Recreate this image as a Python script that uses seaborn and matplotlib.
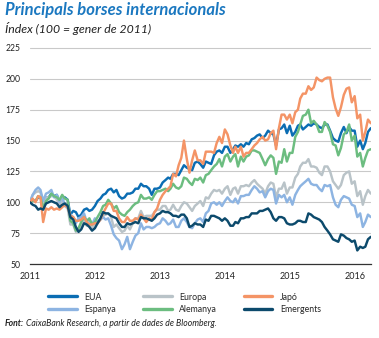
import matplotlib
matplotlib.use("Agg")
import matplotlib.pyplot as plt
import matplotlib.dates as mdates
import numpy as np
import pandas as pd
import seaborn as sns

# Index levels (100 = January 2011): month-end and mid-month observations
end_dates = pd.date_range("2010-12-31", periods=64, freq=pd.offsets.MonthEnd())
mid_dates = pd.date_range("2011-01-01", periods=63, freq=pd.offsets.MonthBegin()) + pd.Timedelta(days=14)

eua_end = [100,
           101, 104, 104, 107, 106, 104, 102, 93, 88, 94, 93, 97,
           103, 107, 111, 110, 103, 107, 108, 111, 113, 111, 111, 112,
           118, 119, 123, 126, 128, 126, 133, 128, 132, 138, 142, 145,
           140, 146, 147, 148, 151, 154, 152, 158, 155, 159, 163, 162,
           157, 163, 161, 162, 163, 160, 163, 152, 149, 161, 161, 158,
           150, 148, 160]
eua_mid = [102, 104, 101, 104, 105, 100, 104, 90, 92, 90, 95, 94,
           101, 106, 110, 108, 105, 104, 107, 111, 115, 113, 106, 111,
           116, 120, 123, 122, 130, 127, 132, 131, 133, 131, 141, 140,
           145, 143, 145, 145, 147, 152, 155, 154, 156, 146, 160, 156,
           154, 162, 159, 163, 164, 161, 163, 158, 150, 156, 156, 158,
           145, 143, 157]

europa_end = [100,
              108, 108, 104, 105, 102, 102, 95, 82, 78, 85, 83, 83,
              86, 90, 88, 82, 76, 81, 83, 87, 88, 89, 92, 94,
              97, 94, 94, 97, 99, 93, 99, 97, 103, 110, 110, 111,
              106, 112, 113, 114, 116, 115, 111, 113, 115, 111, 116, 112,
              120, 129, 132, 129, 128, 122, 129, 117, 111, 122, 125, 117,
              109, 105, 107]
europa_mid = [106, 109, 99, 104, 105, 98, 97, 82, 76, 82, 81, 79,
              83, 89, 91, 80, 79, 77, 78, 87, 93, 89, 89, 94,
              97, 93, 98, 93, 100, 96, 97, 101, 104, 107, 109, 107,
              113, 111, 107, 113, 113, 118, 113, 107, 116, 104, 111, 107,
              112, 123, 132, 135, 129, 124, 129, 125, 114, 114, 124, 115,
              105, 98, 110]

espanya_end = [100,
               110, 110, 107, 110, 106, 105, 98, 88, 87, 91, 86, 87,
               86, 86, 81, 71, 62, 72, 68, 75, 78, 80, 80, 83,
               85, 83, 80, 85, 84, 79, 86, 84, 93, 100, 100, 101,
               101, 103, 105, 106, 110, 111, 109, 109, 110, 106, 106, 104,
               106, 113, 117, 115, 114, 109, 113, 104, 96, 105, 103, 97,
               91, 84, 88]
espanya_mid = [106, 112, 101, 108, 104, 100, 97, 90, 83, 88, 84, 82,
               84, 88, 87, 74, 69, 66, 62, 73, 83, 80, 79, 82,
               87, 82, 86, 80, 87, 80, 83, 87, 91, 99, 98, 97,
               104, 100, 99, 105, 106, 113, 108, 104, 111, 99, 104, 100,
               98, 110, 115, 119, 114, 111, 114, 114, 98, 102, 104, 98,
               88, 80, 90]

alemanya_end = [100,
                101, 104, 101, 107, 104, 106, 102, 83, 79, 88, 87, 84,
                92, 98, 99, 97, 90, 92, 97, 100, 103, 104, 106, 109,
                111, 111, 112, 113, 119, 114, 118, 116, 123, 129, 135, 137,
                133, 139, 137, 137, 142, 141, 135, 135, 136, 133, 143, 140,
                153, 163, 171, 164, 163, 157, 162, 147, 138, 155, 163, 154,
                140, 136, 143]
alemanya_mid = [101, 105, 95, 103, 105, 102, 103, 85, 77, 84, 85, 82,
                88, 97, 102, 95, 92, 89, 94, 99, 106, 103, 102, 109,
                110, 109, 115, 111, 120, 116, 119, 120, 122, 126, 131, 129,
                139, 137, 129, 133, 138, 142, 140, 130, 138, 123, 132, 133,
                140, 157, 170, 175, 166, 157, 165, 157, 146, 144, 157, 150,
                137, 129, 142]

japo_end = [100,
            100, 104, 95, 96, 95, 96, 96, 88, 85, 88, 82, 83,
            86, 95, 99, 93, 84, 88, 85, 86, 87, 87, 92, 102,
            109, 113, 121, 136, 135, 134, 134, 131, 141, 140, 153, 159,
            146, 145, 145, 140, 143, 148, 153, 151, 158, 160, 171, 171,
            173, 184, 188, 191, 201, 198, 201, 185, 170, 187, 193, 186,
            171, 157, 164]
japo_mid = [103, 105, 84, 94, 94, 94, 98, 89, 85, 86, 84, 82,
            83, 91, 99, 93, 87, 84, 85, 87, 90, 84, 86, 95,
            106, 111, 123, 130, 150, 124, 142, 134, 141, 141, 148, 148,
            155, 140, 140, 137, 140, 146, 151, 150, 156, 143, 171, 167,
            164, 175, 188, 194, 193, 199, 200, 201, 176, 177, 192, 181,
            168, 150, 167]

emergents_end = [100,
                 97, 95, 99, 101, 99, 98, 97, 86, 76, 83, 80, 79,
                 87, 91, 89, 87, 80, 83, 83, 83, 87, 86, 87, 91,
                 92, 91, 89, 90, 87, 81, 82, 80, 85, 89, 87, 87,
                 81, 84, 87, 88, 91, 91, 93, 95, 87, 88, 87, 82,
                 83, 85, 84, 90, 87, 84, 77, 70, 68, 73, 70, 69,
                 64, 64, 72]
emergents_mid = [98, 94, 94, 100, 100, 96, 99, 88, 80, 78, 82, 77,
                 83, 92, 91, 88, 83, 80, 82, 84, 88, 87, 85, 90,
                 93, 92, 89, 88, 90, 80, 83, 82, 86, 89, 88, 85,
                 85, 81, 83, 87, 88, 91, 93, 94, 92, 85, 88, 83,
                 82, 85, 84, 91, 88, 86, 80, 74, 69, 74, 71, 68,
                 61, 63, 70]

series = ["EUA", "Europa", "Espanya", "Alemanya", "Japó", "Emergents"]
end_values = [eua_end, europa_end, espanya_end, alemanya_end, japo_end, emergents_end]
mid_values = [eua_mid, europa_mid, espanya_mid, alemanya_mid, japo_mid, emergents_mid]
colors = {"EUA": "#0b6db3", "Europa": "#b9c3c8", "Espanya": "#8db4e2",
          "Alemanya": "#6cbd80", "Japó": "#f49466", "Emergents": "#0c4a6c"}

frames = []
for s, ve, vm in zip(series, end_values, mid_values):
    frames.append(pd.DataFrame({"data": end_dates, "index": ve, "serie": s}))
    frames.append(pd.DataFrame({"data": mid_dates, "index": vm, "serie": s}))
df = pd.concat(frames, ignore_index=True).sort_values(["serie", "data"])

sns.set_style("white")
plt.rcParams["font.family"] = ["Lato", "DejaVu Sans"]

fig = plt.figure(figsize=(3.79, 3.38), dpi=100)
ax = fig.add_axes([30 / 379, 1 - 264 / 338, (371 - 30) / 379, (264 - 45.5) / 338])

sns.lineplot(data=df, x="data", y="index", hue="serie", hue_order=series,
             palette=colors, linewidth=1.75, legend=False, ax=ax)

ax.set_ylim(50, 227)
ax.set_yticks([50, 75, 100, 125, 150, 175, 200, 225])
ax.set_xlim(pd.Timestamp("2010-12-31"), pd.Timestamp("2016-04-01"))
ax.xaxis.set_major_locator(mdates.YearLocator())
ax.xaxis.set_major_formatter(mdates.DateFormatter("%Y"))
ax.set_xlabel("")
ax.set_ylabel("")

ax.grid(axis="y", color="#c9c9c9", linewidth=0.8)
ax.set_axisbelow(True)
for side in ["top", "right", "left"]:
    ax.spines[side].set_visible(False)
ax.spines["bottom"].set_color("#333333")
ax.spines["bottom"].set_linewidth(0.9)
ax.tick_params(axis="y", length=0, pad=7, labelsize=6.2, colors="#222222")
ax.tick_params(axis="x", direction="out", length=3, width=0.8, color="#333333",
               pad=3, labelsize=6.5, labelcolor="#222222")

# Legend, filled column by column
order = ["EUA", "Espanya", "Europa", "Alemanya", "Japó", "Emergents"]
handles = [plt.Line2D([], [], color=colors[s], linewidth=2.4) for s in order]
fig.legend(handles, order, loc="center", bbox_to_anchor=(0.487, 1 - 303.5 / 338),
           ncol=3, frameon=False, fontsize=6.3, handlelength=3.3,
           handletextpad=0.9, columnspacing=3.0, labelspacing=0.45)

fig.text(5 / 379, 1 - 15 / 338, "Principals borses internacionals",
         fontsize=12, fontweight="bold", fontstyle="italic", color="#1b78c0",
         va="baseline", ha="left")
fig.text(5 / 379, 1 - 33 / 338, "Índex (100 = gener de 2011)",
         fontsize=8.8, fontstyle="italic", color="#222222", va="baseline", ha="left")

t = fig.text(5 / 379, 1 - 326 / 338, "Font:", fontsize=6.2, fontweight="bold",
             fontstyle="italic", color="#222222", va="baseline", ha="left")
fig.canvas.draw()
bb = t.get_window_extent()
fig.text((bb.x1 + 1.5) / fig.bbox.width, 1 - 326 / 338,
         "CaixaBank Research, a partir de dades de Bloomberg.",
         fontsize=6.2, fontstyle="italic", color="#222222", va="baseline", ha="left")

fig.savefig("out.png", dpi=100)
